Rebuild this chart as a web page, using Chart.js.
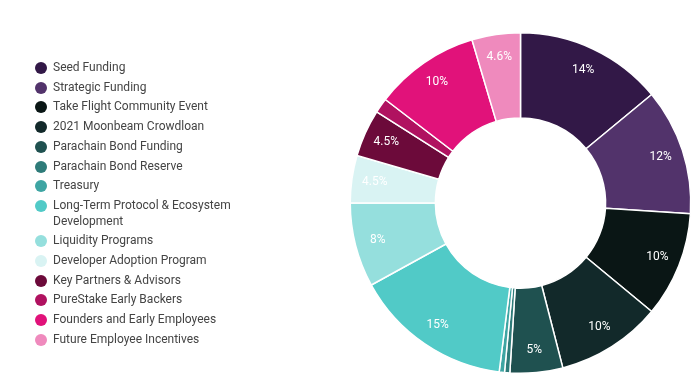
<!DOCTYPE html>
<html>
<head>
<meta charset="utf-8">
<script src="https://cdn.jsdelivr.net/npm/chart.js@4"></script>
<style>
    html, body { margin: 0; padding: 0; background: #fff; }
    #wrap { position: relative; width: 700px; height: 384px; }
    #chart { position: absolute; left: 0; top: 0; }
    #legend {
        position: absolute; left: 35px; top: 60px; margin: 0; padding: 0; list-style: none;
        font-family: Roboto, "Noto Sans", sans-serif; font-size: 12px; color: #444;
    }
    #legend li { display: flex; align-items: flex-start; margin-bottom: 4px; line-height: 15.7px; }
    #legend .dot { width: 12px; height: 12px; border-radius: 50%; flex: none; margin-top: 2px; margin-right: 6px; }
    #legend .txt { max-width: 182px; }
</style>
</head>
<body>
<div id="wrap">
    <canvas id="chart" width="700" height="384"></canvas>
    <ul id="legend"></ul>
</div>
<script>
    // Phân bổ token (%)
    const labels = [
        "Seed Funding", "Strategic Funding", "Take Flight Community Event", "2021 Moonbeam Crowdloan",
        "Parachain Bond Funding", "Parachain Bond Reserve", "Treasury",
        "Long-Term Protocol & Ecosystem Development", "Liquidity Programs", "Developer Adoption Program",
        "Key Partners & Advisors", "PureStake Early Backers", "Founders and Early Employees",
        "Future Employee Incentives"
    ];
    const values = [14, 12, 10, 10, 5, 0.5, 0.5, 15, 8, 4.5, 4.5, 1.4, 10, 4.6];
    const colors = [
        "#321847", "#52336b", "#0a1615", "#12292a", "#1f5150", "#2e7b79", "#3ea5a3",
        "#51cac7", "#95dfdd", "#d9f3f3", "#6c0a3a", "#b01260", "#e1127a", "#ef8abd"
    ];

    // Legend HTML
    const legendEl = document.getElementById("legend");
    labels.forEach((l, i) => {
        const li = document.createElement("li");
        li.innerHTML = `<span class="dot" style="background:${colors[i]}"></span><span class="txt"></span>`;
        li.querySelector(".txt").textContent = l;
        legendEl.appendChild(li);
    });

    // Nhãn phần trăm trên vòng
    const sliceLabels = {
        id: "sliceLabels",
        afterDatasetsDraw(chart) {
            const ctx = chart.ctx;
            const meta = chart.getDatasetMeta(0);
            ctx.save();
            ctx.font = "12px Roboto, sans-serif";
            ctx.fillStyle = "#fff";
            ctx.textAlign = "center";
            ctx.textBaseline = "middle";
            meta.data.forEach((arc, i) => {
                const v = values[i];
                if (v < 2) return;
                const p = arc.getProps(["x", "y", "startAngle", "endAngle", "innerRadius", "outerRadius"], true);
                const a = (p.startAngle + p.endAngle) / 2;
                const r = p.innerRadius + (p.outerRadius - p.innerRadius) * 0.73;
                ctx.fillText(v + "%", p.x + Math.cos(a) * r, p.y + Math.sin(a) * r);
            });
            ctx.restore();
        }
    };

    new Chart(document.getElementById("chart"), {
        type: "doughnut",
        data: { labels, datasets: [{ data: values, backgroundColor: colors, borderColor: "#fff", borderWidth: 1.5 }] },
        options: {
            responsive: false,
            animation: false,
            cutout: "50%",
            layout: { padding: { left: 349, right: 8, top: 32, bottom: 10 } },
            plugins: { legend: { display: false }, tooltip: { enabled: false } }
        },
        plugins: [sliceLabels]
    });
</script>
</body>
</html>
